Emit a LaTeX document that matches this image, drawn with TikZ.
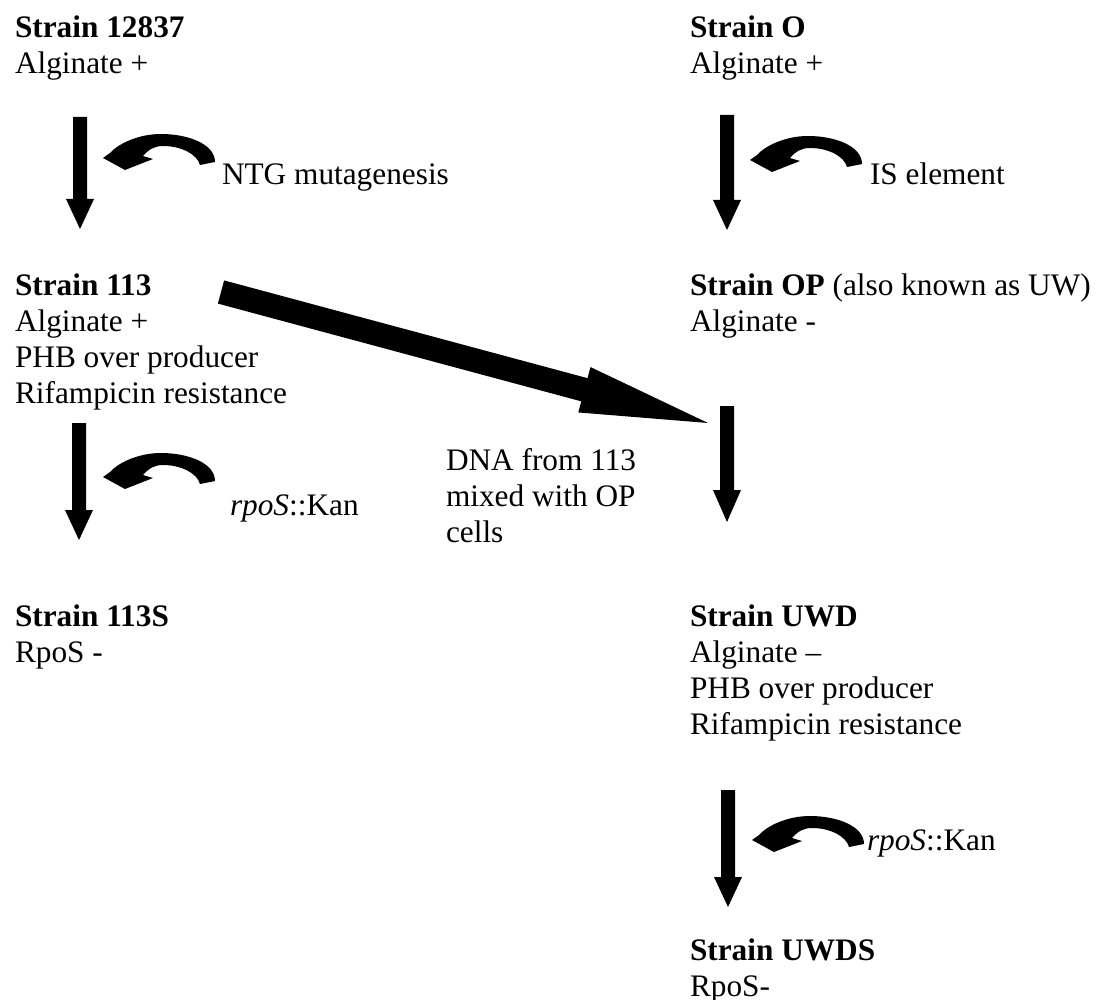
\documentclass[tikz,border=0pt]{standalone}
\usepackage{fontspec}
\setmainfont{Liberation Serif}
\usetikzlibrary{calc}
\tikzset{
  % multi-line nodes: the base anchor is the baseline of the LAST line
  txt/.style={inner sep=0pt, outer sep=0pt, anchor=base west, align=left,
              font=\fontsize{31.3}{36}\selectfont},
  curvedarrow/.pic={
    \fill[black] (112,4) .. controls (112,-14) and (85,-24) .. (58,-24)
      .. controls (35,-24) and (15,-14) .. (7,-5) -- (0,0) -- (22,12) -- (50,1)
      -- (40,-2) .. controls (46,-9) and (52,-12) .. (60,-12)
      .. controls (78,-12) and (94,-4) .. (97,7) -- cycle;
  }
}
% #1 from, #2 to, #3 shaft half width, #4 head half width, #5 head length
\newcommand\blockarrow[5]{%
  \coordinate (ba-b) at ($(#2)!#5!(#1)$);
  \fill[black] ($(#1)!#3!90:(#2)$) -- ($(ba-b)!#3!-90:(#1)$) -- ($(ba-b)!#4!-90:(#1)$)
    -- (#2) -- ($(ba-b)!#4!90:(#1)$) -- ($(ba-b)!#3!90:(#1)$) -- ($(#1)!#3!-90:(#2)$) -- cycle;}
\begin{document}
\begin{tikzpicture}[x=1pt,y=-1pt]
\useasboundingbox (0,0) rectangle (1097,1000);
% strain blocks (positions = baseline of last line)
\node[txt] (s12837) at (15,74) {\textbf{Strain 12837}\\Alginate +};
\node[txt] (sO) at (690,74) {\textbf{Strain O}\\Alginate +};
\node[txt] (s113) at (15,403) {\textbf{Strain 113}\\Alginate +\\PHB over producer\\Rifampicin resistance};
\node[txt] (sOP) at (690,331) {\textbf{Strain OP} (also known as UW)\\Alginate -};
\node[txt] (s113S) at (15,662) {\textbf{Strain 113S}\\RpoS -};
\node[txt] (sUWD) at (690,734) {\textbf{Strain UWD}\\Alginate --\\PHB over producer\\Rifampicin resistance};
\node[txt] (sUWDS) at (690,996) {\textbf{Strain UWDS}\\RpoS-};
% labels
\node[txt] (lNTG) at (222,185) {NTG mutagenesis};
\node[txt] (lIS) at (870,185) {IS element};
\node[txt] (lKan1) at (230,515) {\textit{rpoS}::Kan};
\node[txt] (lDNA) at (446,542) {DNA from 113\\mixed with OP\\cells};
\node[txt] (lKan2) at (867,850) {\textit{rpoS}::Kan};
% block arrows
\coordinate (a1s) at (80,117);  \coordinate (a1e) at (80,229);
\coordinate (a2s) at (79,423);  \coordinate (a2e) at (79,540);
\coordinate (a3s) at (727,115); \coordinate (a3e) at (727,230);
\coordinate (a4s) at (727,406); \coordinate (a4e) at (727,522);
\coordinate (a5s) at (728,790); \coordinate (a5e) at (728,907);
\coordinate (bs) at (221,292);  \coordinate (be) at (708,423);
\blockarrow{a1s}{a1e}{7pt}{14pt}{30pt}
\blockarrow{a2s}{a2e}{7pt}{14pt}{30pt}
\blockarrow{a3s}{a3e}{7pt}{14pt}{30pt}
\blockarrow{a4s}{a4e}{7pt}{14pt}{32pt}
\blockarrow{a5s}{a5e}{7pt}{14pt}{30pt}
\blockarrow{bs}{be}{12pt}{23.5pt}{128pt}
% curved arrows
\pic at (103,158) {curvedarrow};
\pic at (750,160) {curvedarrow};
\pic at (103,477) {curvedarrow};
\pic at (752,840) {curvedarrow};
\end{tikzpicture}
\end{document}
